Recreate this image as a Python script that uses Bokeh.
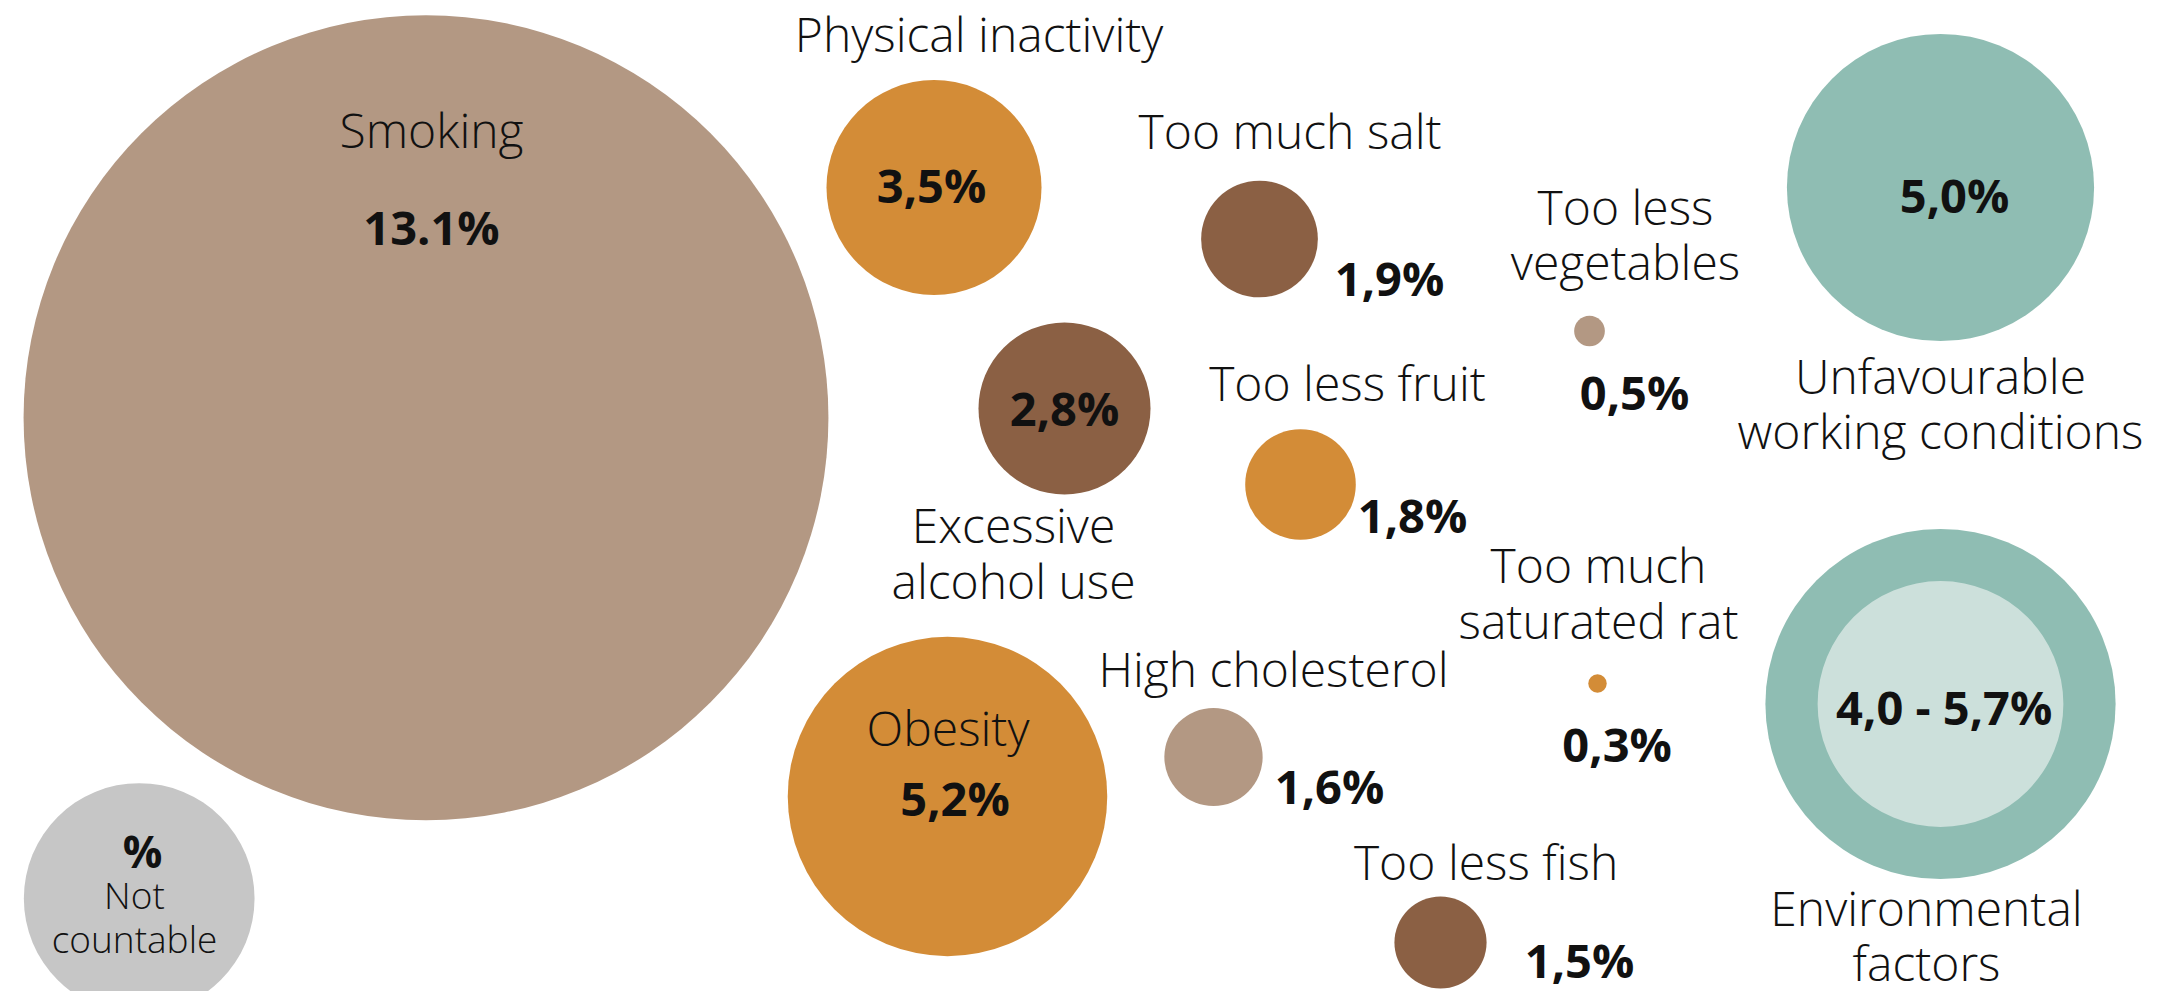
from bokeh.plotting import figure
from bokeh.models import ColumnDataSource, Range1d
from bokeh.core.properties import value
from bokeh.embed import file_html
from bokeh.resources import INLINE

# ---------------- data ----------------
factors = ["Smoking", "Physical inactivity", "Too much salt", "Excessive alcohol use",
           "Too less fruit", "Too less vegetables", "Unfavourable working conditions",
           "Obesity", "High cholesterol", "Too much saturated rat", "Too less fish",
           "Environmental factors"]
shares = [13.1, 3.5, 1.9, 2.8, 1.8, 0.5, 5.0, 5.2, 1.6, 0.3, 1.5, 5.7]
env_low = 4.0
share_labels = ["13.1%", "3,5%", "1,9%", "2,8%", "1,8%", "0,5%", "5,0%", "5,2%",
                "1,6%", "0,3%", "1,5%", "4,0 - 5,7%"]
label_lines = [["Smoking"], ["Physical inactivity"], ["Too much salt"],
               ["Excessive", "alcohol use"], ["Too less fruit"], ["Too less", "vegetables"],
               ["Unfavourable", "working conditions"], ["Obesity"], ["High cholesterol"],
               ["Too much", "saturated rat"], ["Too less fish"], ["Environmental", "factors"]]
groups = ["tobacco", "lifestyle", "diet", "lifestyle2", "diet2", "tobacco2", "env",
          "lifestyle", "tobacco", "diet2", "diet", "env"]
not_countable_label = "%"
not_countable_text = ["Not", "countable"]

# ---------------- layout / style ----------------
K = 30.72  # pixels per percentage point (radius scale)
cx = [425.5, 933.5, 1259, 1064, 1300, 1589, 1940, 947, 1213, 1597, 1440, 1940]
cy = [417.3, 187, 238.5, 408, 484, 330.5, 187, 796, 756.5, 683, 942, 703.5]
lab_x = [431, 978.6, 1289.6, 1013, 1347, 1625, 1940, 947.5, 1273, 1598, 1485.6, 1926]
lab_y = [147.4, 51, 148.5, 542.7, 400.7, 224, 393, 745, 686, 582.7, 879, 925]
val_x = [431, 931, 1389, 1064, 1412, 1634, 1954, 954.5, 1329, 1616.6, 1579, 1943.7]
val_y = [244, 202, 295.4, 425.6, 532, 409, 212.7, 815, 803, 761, 977, 724]
LINE_GAP = 55.5
palette = {"tobacco": "#B39883", "tobacco2": "#B39883", "lifestyle": "#D38C37",
           "lifestyle2": "#8B6044", "diet": "#8B6044", "diet2": "#D38C37", "env": "#8FBDB3"}
env_inner_color = "#CCE0DB"
nc_color = "#C6C6C6"
nc_pos = (138.7, 898.0)
nc_size = 3.755  # radius in percentage-point units
nc_lab = (142, 867.3)
nc_txt = (134, 908.3)
NC_GAP = 44
LAB_PX, VAL_PX, NC_PX, PCT_PX = 48, 47, 37, 44
SHIFT = 0.38  # baseline correction (em)

W, H = 2146, 991
p = figure(width=W, height=H, output_backend="svg", toolbar_location=None,
           x_range=Range1d(0, W), y_range=Range1d(H, 0),
           x_axis_location=None, y_axis_location=None, min_border=0,
           background_fill_color="white", border_fill_color="white")
p.outline_line_color = None
p.grid.visible = False

# bubbles
src = ColumnDataSource(dict(x=cx, y=cy, r=[s * K for s in shares],
                            color=[palette[g] for g in groups]))
p.circle(x="x", y="y", radius="r", fill_color="color", line_color=None, source=src)
# environmental lower bound (inner circle)
ei = factors.index("Environmental factors")
p.circle(x=[cx[ei]], y=[cy[ei]], radius=[env_low * K], fill_color=env_inner_color, line_color=None)
# not countable
p.circle(x=[nc_pos[0]], y=[nc_pos[1]], radius=[nc_size * K], fill_color=nc_color, line_color=None)

# category labels (one row per line)
tx, ty, tt = [], [], []
for i, lines in enumerate(label_lines):
    for j, ln in enumerate(lines):
        tx.append(lab_x[i]); ty.append(lab_y[i] + j * LINE_GAP - SHIFT * LAB_PX); tt.append(ln)
p.text(x=tx, y=ty, text=tt, text_align="center", text_baseline="alphabetic",
       text_font=value("Open Sans"), text_font_size=f"300 {LAB_PX}px", text_color="#111111")

# value labels
p.text(x=val_x, y=[v - SHIFT * VAL_PX for v in val_y], text=share_labels,
       text_align="center", text_baseline="alphabetic",
       text_font=value("Open Sans"), text_font_style="bold", text_font_size=f"{VAL_PX}px",
       text_color="#111111")

# not countable texts
p.text(x=[nc_lab[0]], y=[nc_lab[1] - SHIFT * PCT_PX], text=[not_countable_label],
       text_align="center", text_baseline="alphabetic", text_font=value("Open Sans"),
       text_font_style="bold", text_font_size=f"{PCT_PX}px", text_color="#111111")
p.text(x=[nc_txt[0]] * 2, y=[nc_txt[1] - SHIFT * NC_PX, nc_txt[1] + NC_GAP - SHIFT * NC_PX],
       text=not_countable_text, text_align="center", text_baseline="alphabetic",
       text_font=value("Open Sans"), text_font_size=f"300 {NC_PX}px", text_color="#111111")

open("out.html", "w").write(file_html(p, INLINE))
